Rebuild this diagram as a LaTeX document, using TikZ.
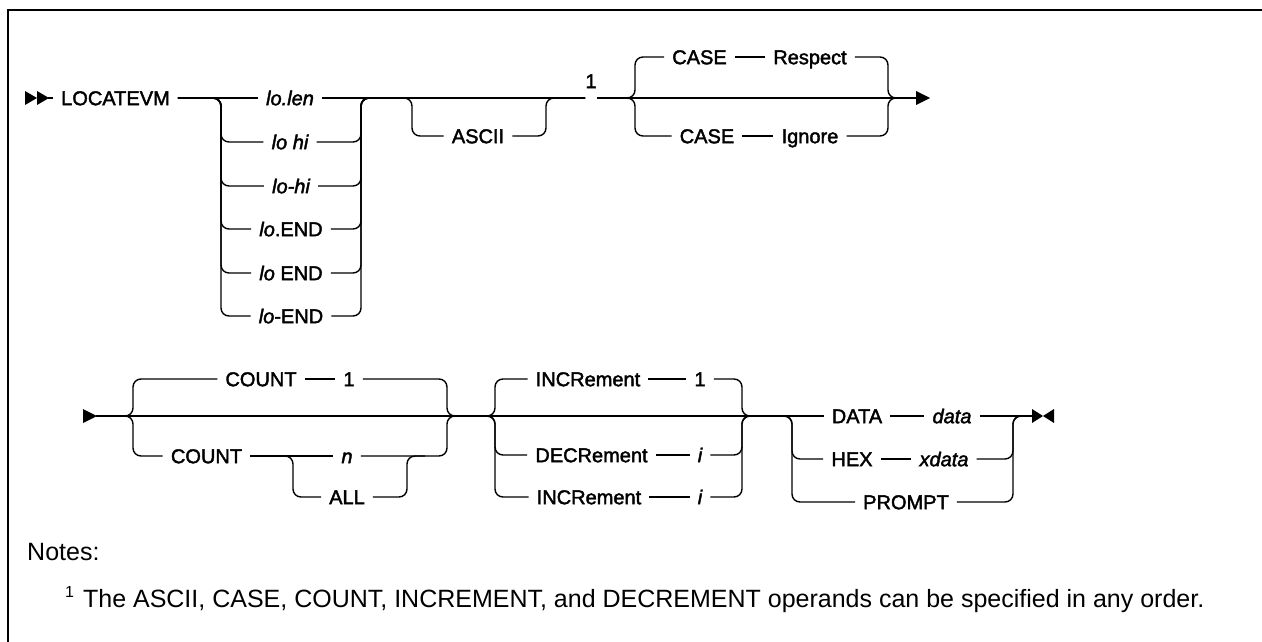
\documentclass[tikz,border=0pt]{standalone}
\usepackage{fontspec}
\setmainfont{Liberation Sans}
\newfontfamily\lblfont{Liberation Sans}[FakeBold=2]
\tikzset{
  lbl/.style={font=\lblfont\fontsize{20}{24}\selectfont, inner xsep=8pt, inner ysep=0pt,
              text height=14.4pt, text depth=0pt},
  ln/.style={line width=1.4pt},
  rr/.style={line width=1.4pt, rounded corners=8pt},
  frame/.style={line width=2.4pt},
}
\begin{document}
\begin{tikzpicture}[x=1pt,y=-1pt]
\useasboundingbox (0,0) rectangle (1262,642);
% frame
\draw[frame] (8,642) -- (8,10) -- (1262,10);

% ===== Row 1 =====
\fill (25,91) -- (37,98) -- (25,105) -- cycle;
\fill (37,91) -- (49,98) -- (37,105) -- cycle;
\coordinate (s1) at (48,98);
\node[lbl] (locate) at (115.5,98) {LOCATEVM};
\draw[ln] (s1) -- (locate.west);

% lo group
\node[lbl] (lolen) at (290,98) {\itshape lo.len};
\node[lbl] (lohi) at (290,142) {\itshape lo hi};
\node[lbl] (lohy) at (291,186) {\itshape lo-hi};
\node[lbl] (loDend) at (291,229) {{\itshape lo}.END};
\node[lbl] (loSend) at (291,273) {{\itshape lo} END};
\node[lbl] (loHend) at (291,316) {{\itshape lo}-END};
\coordinate (gapL) at (585,98);
\coordinate (gapR) at (597,98);
\draw[ln] (locate.east) -- (lolen.west);
\draw[ln] (lolen.east) -- (gapL);
\foreach \r in {lohi,lohy,loDend,loSend,loHend}{
  \draw[rr] (locate.east) -- (221,98) |- (\r.west);
  \draw[rr] (\r.east) -| (361,98) -- (gapL);
}

% ASCII
\node[lbl] (ascii) at (478,136) {ASCII};
\draw[rr] (lolen.east) -- (412,98) |- (ascii.west);
\draw[rr] (ascii.east) -| (546,98) -- (gapL);

% footnote ref
\node[lbl] (ref1) at (591,81) {1};

% CASE group
\node[lbl] (caseA) at (699.5,57) {CASE};
\node[lbl] (resp) at (810,57) {Respect};
\node[lbl] (caseB) at (707,136) {CASE};
\node[lbl] (ign) at (810,136) {Ignore};
\coordinate (arr1) at (917,98);
\draw[ln] (gapR) -- (arr1);
\draw[rr] (gapR) -- (635,98) |- (caseA.west);
\draw[rr] (gapR) -- (635,98) |- (caseB.west);
\draw[ln] (caseA.east) -- (resp.west);
\draw[ln] (caseB.east) -- (ign.west);
\draw[rr] (resp.east) -| (888,98) -- (arr1);
\draw[rr] (ign.east) -| (888,98) -- (arr1);
\fill (916,91) -- (930,98) -- (916,105) -- cycle;

% ===== Row 2 =====
\fill (83,409) -- (97,416) -- (83,423) -- cycle;
\coordinate (s2) at (96,416);
\node[lbl] (cnt1) at (261,379) {COUNT};
\node[lbl] (one1) at (349,379) {1};
\node[lbl] (cnt2) at (206.5,456) {COUNT};
\node[lbl] (nn) at (347,456) {\itshape n};
\node[lbl] (all) at (347,497) {ALL};
\coordinate (k2) at (470,416);
\coordinate (k3) at (770,416);
\coordinate (nr) at (425,456);

% DATA group nodes
\node[lbl] (data) at (857,416) {DATA};
\node[lbl] (dat) at (952,416) {\itshape data};
\node[lbl] (hex) at (852,459) {HEX};
\node[lbl] (xdat) at (944,459) {\itshape xdata};
\node[lbl] (prompt) at (906,502) {PROMPT};

\draw[ln] (s2) -- (data.west);

% COUNT group
\draw[rr] (s2) -- (133,416) |- (cnt1.west);
\draw[rr] (s2) -- (133,416) |- (cnt2.west);
\draw[ln] (cnt1.east) -- (one1.west);
\draw[rr] (one1.east) -| (447,416) -- (k2);
\draw[ln] (cnt2.east) -- (nn.west);
\draw[rr] (cnt2.east) -- (293,456) |- (all.west);
\draw[rr] (nn.east) -| (447,416) -- (k2);
\draw[rr] (all.east) -| (407,456) -- (nr);

% INCR group
\node[lbl] (inc1) at (588,379) {INCRement};
\node[lbl] (one2) at (700,379) {1};
\node[lbl] (dec) at (591.5,455) {DECRement};
\node[lbl] (i1) at (700,455) {\itshape i};
\node[lbl] (inc2) at (589,497) {INCRement};
\node[lbl] (i2) at (700,497) {\itshape i};
\foreach \a/\b in {inc1/one2,dec/i1,inc2/i2}{
  \draw[rr] (k2) -- (495,416) |- (\a.west);
  \draw[ln] (\a.east) -- (\b.west);
  \draw[rr] (\b.east) -| (742,416) -- (k3);
}

% DATA group
\coordinate (e2) at (1032,416);
\draw[rr] (k3) -- (792,416) |- (hex.west);
\draw[rr] (k3) -- (792,416) |- (prompt.west);
\draw[ln] (data.east) -- (dat.west);
\draw[ln] (hex.east) -- (xdat.west);
\draw[ln] (dat.east) -- (e2);
\draw[rr] (xdat.east) -| (1013,416) -- (e2);
\draw[rr] (prompt.east) -| (1013,416) -- (e2);
\fill (1032,409) -- (1043,416) -- (1032,423) -- cycle;
\fill (1054,409) -- (1043,416) -- (1054,423) -- cycle;

% ===== Notes =====
\node[anchor=base west, inner sep=0pt, font=\fontsize{25}{30}\selectfont] (notes) at (27,560) {Notes:};
\node[anchor=base west, inner sep=0pt, font=\fontsize{25}{30}\selectfont] (fn) at (65,607)
  {\raisebox{10pt}{\fontsize{16}{16}\selectfont 1}\hspace{9pt}The ASCII, CASE, COUNT, INCREMENT, and DECREMENT operands can be specified in any order.};
\end{tikzpicture}
\end{document}
